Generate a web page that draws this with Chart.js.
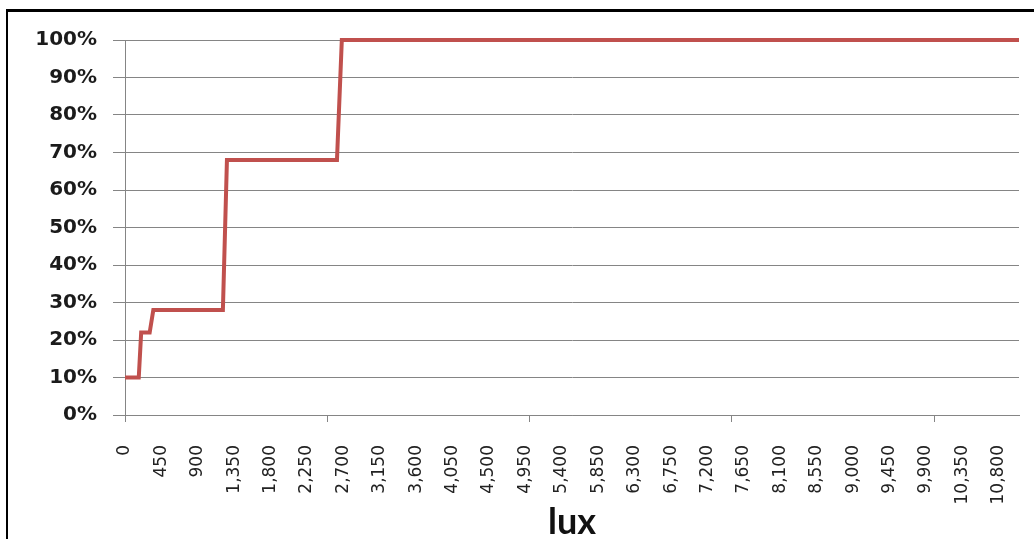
<!DOCTYPE html>
<html>
<head>
<meta charset="utf-8">
<title>lux</title>
<script src="https://cdn.jsdelivr.net/npm/chart.js@4"></script>
<style>
  html, body { margin: 0; padding: 0; background: #fff; overflow: hidden; }
  #wrap { position: relative; width: 1034px; height: 539px; }
  #c { position: absolute; left: 0; top: 0; }
  #frame {
    position: absolute; left: 6px; top: 9px; width: 2000px; height: 2000px;
    border-top: 3px solid #000; border-left: 2px solid #000; pointer-events: none;
  }
</style>
</head>
<body>
<div id="wrap">
  <canvas id="c" width="1034" height="539"></canvas>
  <div id="frame"></div>
</div>
<script>
// Step curve corners: illuminance (lux) and output level (fraction)
const luxPoints   = [0,    170,  200,  305,  350,  1210, 1260, 2620, 2680, 11050];
const levelPoints = [0.10, 0.10, 0.22, 0.22, 0.28, 0.28, 0.68, 0.68, 1.00, 1.00];

// Axis settings
const luxMin = 0, luxMax = 11050, luxStep = 50;
const labelEvery = 450;     // lux between printed tick labels
const markEvery = 2500;     // lux between tick marks
const yTickValues = [0, 0.1, 0.2, 0.3, 0.4, 0.5, 0.6, 0.7, 0.8, 0.9, 1.0];

const gridGray = '#858585';

const points = luxPoints.map((x, i) => ({ x: x, y: levelPoints[i] }));

new Chart(document.getElementById('c'), {
  type: 'line',
  data: {
    datasets: [{
      data: points,
      borderColor: '#C0504D',
      borderWidth: 4,
      pointRadius: 0,
      tension: 0,
      borderJoinStyle: 'miter',
      fill: false,
      clip: 4
    }]
  },
  options: {
    responsive: false,
    animation: false,
    devicePixelRatio: 1,
    layout: { padding: { top: 40, right: 15, left: 0, bottom: 0 } },
    plugins: { legend: { display: false }, tooltip: { enabled: false } },
    scales: {
      x: {
        type: 'linear',
        min: luxMin,
        max: luxMax,
        afterFit: (s) => { s.height = 124; s.paddingRight = 0; s.paddingLeft = 0; },
        ticks: {
          stepSize: luxStep,
          autoSkip: false,
          minRotation: 90,
          maxRotation: 90,
          padding: 23,
          color: '#222',
          font: { family: 'DejaVu Sans', size: 17 },
          callback: (v) => (v % labelEvery === 0 ? v.toLocaleString('en-US') : '')
        },
        grid: {
          drawOnChartArea: false,
          drawTicks: true,
          tickLength: 7,
          tickWidth: 1,
          tickColor: (ctx) => (ctx.tick && ctx.tick.value % markEvery === 0 ? gridGray : 'rgba(0,0,0,0)')
        },
        border: { display: true, color: gridGray, width: 1 },
        title: {
          display: true,
          text: 'lux',
          color: '#111',
          font: { family: 'Lato', weight: 'bold', size: 36, lineHeight: 0.9 },
          padding: { top: 0, bottom: 0 }
        }
      },
      y: {
        min: 0,
        max: 1,
        afterFit: (s) => { s.width = 125; },
        afterBuildTicks: (s) => { s.ticks = yTickValues.map(v => ({ value: v })); },
        ticks: {
          padding: 16,
          color: '#1b1b1b',
          font: { family: 'DejaVu Sans', weight: 'bold', size: 20 },
          callback: (v) => Math.round(v * 100) + '%'
        },
        grid: {
          color: gridGray,
          lineWidth: 1,
          drawTicks: true,
          tickLength: 12
        },
        border: { display: true, color: gridGray, width: 1 }
      }
    }
  }
});
</script>
</body>
</html>
